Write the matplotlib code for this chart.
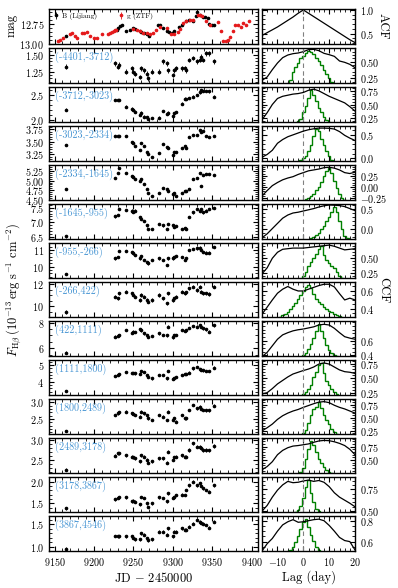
"""Velocity-resolved H-beta light curves and CCFs"""

import matplotlib

matplotlib.use("Agg")
import matplotlib.pyplot as plt
import numpy as np
from matplotlib.ticker import AutoMinorLocator, FixedLocator

# ---------------- data ----------------
# photometry (top panel)
b_jd = [9165, 9229, 9231, 9233, 9235, 9241, 9246, 9249, 9252, 9258, 9260, 9263,
        9267, 9270, 9281, 9284, 9287, 9292, 9295, 9299, 9302, 9308, 9312, 9317,
        9320, 9325, 9329, 9331, 9334, 9338, 9341, 9344, 9346, 9350, 9352]
b_mag = [12.895, 12.83, 12.80, 12.77, 12.755, 12.84, 12.82, 12.80, 12.81, 12.84,
         12.85, 12.86, 12.87, 12.90, 12.76, 12.755, 12.80, 12.84, 12.85, 12.86,
         12.84, 12.79, 12.76, 12.71, 12.70, 12.71, 12.65, 12.60, 12.63, 12.66,
         12.66, 12.67, 12.75, 12.765, 12.76]
g_jd = [9154, 9157.5, 9161, 9169, 9172, 9175.5, 9178.5, 9185, 9188, 9191, 9195,
        9199.5, 9204, 9210, 9218, 9220.5, 9222.5, 9225, 9227, 9228, 9250, 9254,
        9258, 9262.5, 9267, 9271, 9275, 9279, 9283.5, 9292, 9298, 9302, 9306,
        9309, 9313, 9317, 9322, 9326, 9332, 9334, 9337, 9342, 9346.5, 9357, 9361,
        9364, 9367, 9370, 9372.5, 9376, 9379, 9383, 9386.5, 9388.5, 9392.5, 9396]
g_mag = [12.958, 12.954, 12.925, 12.87, 12.862, 12.895, 12.925, 12.862, 12.862,
         12.85, 12.90, 12.925, 12.925, 12.879, 12.879, 12.862, 12.854, 12.84, 12.83,
         12.82, 12.808, 12.82, 12.84, 12.857, 12.866, 12.875, 12.857, 12.82, 12.79,
         12.80, 12.875, 12.87, 12.845, 12.808, 12.737, 12.708, 12.695, 12.70, 12.64,
         12.633, 12.654, 12.708, 12.758, 12.725, 12.84, 12.966, 12.958, 12.945,
         12.916, 12.84, 12.758, 12.758, 12.78, 12.737, 12.758, 12.716]

# spectroscopic epochs
jd = [9164, 9227, 9230, 9232, 9241, 9248, 9250, 9252, 9258, 9260, 9263, 9267,
      9269, 9273, 9283, 9288, 9292, 9294, 9300, 9302, 9304, 9311, 9315, 9317,
      9321, 9325, 9330, 9334, 9336, 9338, 9342, 9346, 9352]

vel_bins = ["(-4401,-3712)", "(-3712,-3023)", "(-3023,-2334)", "(-2334,-1645)",
            "(-1645,-955)", "(-955,-266)", "(-266,422)", "(422,1111)",
            "(1111,1800)", "(1800,2489)", "(2489,3178)", "(3178,3867)",
            "(3867,4546)"]

flux_1 = [1.325, 1.37, 1.32, 1.35, 1.25, 1.30, 1.25, 1.22, 1.17, 1.30, 1.27, 1.22,
          1.15, 1.25, 1.25, 1.40, 1.37, 1.27, 1.20, 1.27, 1.30, 1.30, 1.30, 1.27,
          1.42, 1.45, 1.40, 1.42, 1.47, 1.42, 1.52, 1.52, 1.40]
flux_2 = [2.21, 2.40, 2.40, 2.40, 2.27, 2.23, 2.20, 2.17, 2.10, 2.15, 2.07, 2.06,
          2.02, 2.04, 2.05, 2.18, 2.12, 2.15, 2.08, 2.14, 2.16, 2.33, 2.43, 2.42,
          2.44, 2.47, 2.50, 2.55, 2.60, 2.58, 2.58, 2.57, 2.47]
flux_3 = [3.435, 3.61, 3.61, 3.61, 3.61, 3.50, 3.47, 3.42, 3.34, 3.47, 3.42, 3.30,
          3.26, 3.20, 3.27, 3.45, 3.40, 3.37, 3.24, 3.30, 3.30, 3.37, 3.42, 3.37,
          3.60, 3.63, 3.63, 3.73, 3.70, 3.72, 3.62, 3.60, 3.61]
flux_4 = [4.79, 5.07, 5.20, 5.32, 5.19, 5.11, 5.10, 5.03, 4.98, 5.03, 4.90, 4.78,
          4.69, 4.61, 4.69, 4.82, 4.78, 4.74, 4.65, 4.69, 4.61, 4.69, 4.74, 4.74,
          4.78, 5.03, 5.07, 5.19, 4.86, 5.15, 5.18, 5.18, 5.15]
flux_5 = [6.51, 7.20, 7.25, 7.46, 7.43, 7.40, 7.35, 7.40, 7.17, 7.12, 7.05, 6.89,
          6.77, 6.77, 6.94, 6.89, 6.77, 6.94, 6.89, 6.83, 6.86, 6.77, 6.80, 6.77,
          7.17, 7.34, 7.46, 7.40, 7.46, 7.34, 7.40, 7.46, 7.50]
flux_6 = [9.56, 10.50, 10.60, 10.96, 10.96, 10.90, 10.80, 10.70, 10.50, 10.65,
          10.40, 10.30, 10.20, 10.40, 10.50, 10.40, 10.10, 10.50, 10.50, 10.60,
          10.65, 10.60, 10.40, 10.50, 11.00, 11.05, 11.10, 11.15, 11.00, 10.90,
          10.85, 10.85, 11.20]
flux_7 = [9.47, 10.86, 10.70, 11.17, 11.32, 11.17, 11.05, 10.86, 10.55, 11.00,
          10.86, 10.55, 10.40, 10.55, 11.00, 10.70, 10.25, 11.17, 10.55, 10.70,
          10.86, 11.32, 11.17, 11.25, 11.63, 11.78, 11.47, 11.78, 11.32, 11.17,
          11.15, 11.10, 11.78]
flux_8 = [5.66, 6.90, 6.98, 7.04, 7.43, 7.22, 7.30, 7.27, 7.48, 7.40, 7.17, 7.04,
          6.90, 6.95, 7.17, 7.04, 7.00, 7.69, 6.85, 7.00, 7.04, 7.43, 7.35, 7.43,
          7.60, 7.75, 7.70, 7.82, 7.70, 7.55, 7.48, 7.30, 7.80]
flux_9 = [3.45, 4.34, 4.40, 4.46, 4.60, 4.52, 4.52, 4.50, 4.48, 4.65, 4.58, 4.40,
          4.30, 4.20, 4.40, 4.40, 4.20, 4.65, 4.15, 4.20, 4.30, 4.40, 4.46, 4.46,
          4.55, 4.80, 4.90, 4.75, 4.72, 4.68, 4.66, 4.66, 4.85]
flux_10 = [2.14, 2.62, 2.67, 2.70, 2.72, 2.67, 2.66, 2.62, 2.57, 2.72, 2.67, 2.62,
           2.52, 2.47, 2.62, 2.57, 2.47, 2.72, 2.47, 2.52, 2.42, 2.62, 2.52, 2.52,
           2.77, 2.92, 2.82, 2.87, 2.80, 2.77, 2.76, 2.76, 2.90]
flux_11 = [2.25, 2.60, 2.67, 2.67, 2.62, 2.58, 2.56, 2.54, 2.46, 2.62, 2.58, 2.50,
           2.43, 2.46, 2.54, 2.54, 2.43, 2.71, 2.50, 2.56, 2.58, 2.62, 2.58, 2.58,
           2.75, 2.92, 2.83, 2.83, 2.80, 2.75, 2.75, 2.74, 2.85]
flux_12 = [1.385, 1.59, 1.62, 1.64, 1.64, 1.55, 1.56, 1.54, 1.48, 1.65, 1.62, 1.50,
           1.42, 1.50, 1.64, 1.62, 1.55, 1.73, 1.62, 1.65, 1.69, 1.70, 1.69, 1.81,
           1.92, 2.00, 1.92, 1.96, 1.90, 1.85, 1.81, 1.77, 1.92]
flux_13 = [0.95, 1.24, 1.23, 1.23, 1.23, 1.23, 1.19, 1.16, 1.16, 1.30, 1.27, 1.19,
           1.14, 1.16, 1.34, 1.34, 1.27, 1.41, 1.23, 1.34, 1.34, 1.41, 1.38, 1.38,
           1.45, 1.52, 1.60, 1.56, 1.54, 1.52, 1.49, 1.43, 1.56]
fluxes = [flux_1, flux_2, flux_3, flux_4, flux_5, flux_6, flux_7, flux_8, flux_9,
          flux_10, flux_11, flux_12, flux_13]
flux_err = [0.035, 0.025, 0.02, 0.025, 0.04, 0.07, 0.15, 0.1, 0.07, 0.04, 0.04,
            0.03, 0.03]

# ACF / CCF on a common lag grid
lags = [-16, -14, -12, -10, -8, -6, -4, -2, 0, 2, 4, 6, 8, 10, 12, 14, 16, 18, 20]
acf = [0.46, 0.52, 0.58, 0.64, 0.71, 0.78, 0.85, 0.93, 1.0, 0.93, 0.86, 0.79,
       0.72, 0.65, 0.58, 0.51, 0.44, 0.37, 0.31]
ccfs = [
    [0.22, 0.27, 0.38, 0.48, 0.56, 0.60, 0.62, 0.63, 0.65, 0.68, 0.685, 0.665,
     0.625, 0.605, 0.58, 0.51, 0.49, 0.46, 0.41],
    [0.22, 0.35, 0.50, 0.61, 0.65, 0.67, 0.69, 0.70, 0.72, 0.76, 0.78, 0.75,
     0.70, 0.65, 0.61, 0.57, 0.53, 0.46, 0.38],
    [0.02, 0.08, 0.17, 0.32, 0.40, 0.46, 0.50, 0.54, 0.58, 0.61, 0.63, 0.645,
     0.645, 0.64, 0.625, 0.57, 0.49, 0.43, 0.38],
    [-0.20, -0.08, 0.03, 0.10, 0.16, 0.20, 0.23, 0.28, 0.32, 0.36, 0.38, 0.40,
     0.43, 0.44, 0.42, 0.38, 0.32, 0.30, 0.33],
    [-0.22, -0.12, 0.01, 0.14, 0.27, 0.35, 0.40, 0.42, 0.45, 0.48, 0.51, 0.55,
     0.58, 0.60, 0.595, 0.585, 0.56, 0.51, 0.46],
    [0.24, 0.34, 0.50, 0.60, 0.65, 0.66, 0.67, 0.67, 0.67, 0.68, 0.69, 0.70,
     0.71, 0.72, 0.70, 0.67, 0.64, 0.65, 0.66],
    [0.34, 0.42, 0.50, 0.575, 0.62, 0.65, 0.62, 0.60, 0.60, 0.62, 0.64, 0.66,
     0.675, 0.675, 0.645, 0.57, 0.50, 0.52, 0.50],
    [0.38, 0.44, 0.53, 0.62, 0.68, 0.71, 0.735, 0.75, 0.76, 0.775, 0.79, 0.815,
     0.825, 0.815, 0.77, 0.71, 0.655, 0.635, 0.62],
    [0.23, 0.25, 0.32, 0.40, 0.46, 0.52, 0.57, 0.60, 0.63, 0.655, 0.69, 0.74,
     0.76, 0.74, 0.69, 0.64, 0.61, 0.60, 0.58],
    [0.25, 0.31, 0.38, 0.47, 0.54, 0.59, 0.63, 0.66, 0.70, 0.735, 0.77, 0.80,
     0.81, 0.79, 0.74, 0.70, 0.67, 0.63, 0.59],
    [0.32, 0.38, 0.47, 0.60, 0.68, 0.73, 0.76, 0.77, 0.785, 0.80, 0.83, 0.855,
     0.865, 0.86, 0.84, 0.81, 0.77, 0.70, 0.60],
    [0.50, 0.565, 0.66, 0.74, 0.80, 0.84, 0.825, 0.83, 0.845, 0.855, 0.84, 0.85,
     0.83, 0.78, 0.71, 0.66, 0.625, 0.59, 0.55],
    [0.51, 0.58, 0.63, 0.70, 0.76, 0.79, 0.81, 0.785, 0.79, 0.80, 0.81, 0.815,
     0.80, 0.755, 0.70, 0.64, 0.61, 0.60, 0.52],
]

# lag distributions: first bin centre (day) and relative counts in 1-day bins
cccd_start = [-6, -2, -1, 1, 3, 0, -9, 0, 0, 0, -1, -3, -6]
cccd = [
    [0.0, 0.1, 0.35, 0.5, 0.62, 0.78, 0.85, 0.95, 1.0, 0.97, 0.9, 0.8, 0.7, 0.55,
     0.42, 0.28, 0.15, 0.04],
    [0.02, 0.1, 0.3, 0.5, 0.75, 1.0, 0.85, 0.65, 0.45, 0.3, 0.15, 0.05, 0.01],
    [0.03, 0.08, 0.15, 0.3, 0.5, 0.8, 1.0, 0.95, 0.7, 0.5, 0.3, 0.15, 0.04],
    [0.02, 0.06, 0.12, 0.2, 0.3, 0.42, 0.58, 0.75, 0.92, 1.0, 0.85, 0.6, 0.38,
     0.18, 0.06, 0.01],
    [0.02, 0.06, 0.12, 0.2, 0.3, 0.42, 0.55, 0.7, 0.85, 1.0, 0.85, 0.55, 0.3,
     0.1, 0.02],
    [0.05, 0.2, 0.38, 0.5, 0.62, 0.75, 0.92, 1.0, 0.72, 0.55, 0.48, 0.38, 0.3,
     0.18, 0.06, 0.01],
    [0.01, 0.06, 0.1, 0.16, 0.24, 0.33, 0.45, 0.58, 0.7, 0.82, 0.95, 1.0, 0.9,
     0.72, 0.58, 0.48, 0.4, 0.32, 0.26, 0.2, 0.16, 0.1, 0.05, 0.02],
    [0.02, 0.08, 0.22, 0.38, 0.55, 0.78, 1.0, 0.8, 0.55, 0.35, 0.2, 0.1, 0.04,
     0.01],
    [0.02, 0.08, 0.18, 0.32, 0.55, 0.72, 0.95, 1.0, 0.7, 0.45, 0.3, 0.18, 0.08,
     0.02],
    [0.02, 0.12, 0.35, 0.6, 0.8, 0.85, 1.0, 0.82, 0.6, 0.45, 0.3, 0.17, 0.06,
     0.01],
    [0.03, 0.15, 0.45, 0.75, 1.0, 0.88, 0.65, 0.45, 0.3, 0.18, 0.1, 0.04, 0.01],
    [0.01, 0.05, 0.18, 0.45, 0.8, 1.0, 0.6, 0.3, 0.1, 0.02],
    [0.01, 0.04, 0.12, 0.28, 0.48, 0.7, 0.92, 1.0, 0.75, 0.5, 0.3, 0.12, 0.03],
]

# axis ranges and ticks
lc_ylim = [(1.08, 1.60), (1.96, 2.66), (3.12, 3.81), (4.50, 5.40), (6.42, 7.63),
           (9.32, 11.42), (9.0, 12.2), (5.4, 8.13), (3.2, 5.3), (2.05, 3.10),
           (2.17, 3.05), (1.30, 2.11), (0.90, 1.69)]
lc_ticks = [[1.25, 1.50], [2.0, 2.5], [3.25, 3.50, 3.75], [4.50, 4.75, 5.00, 5.25],
            [6.5, 7.0, 7.5], [10, 11], [10, 12], [6, 8], [4, 5], [2.5, 3.0],
            [2.5, 3.0], [1.5, 2.0], [1.0, 1.5]]
ccf_ylim = [(0.18, 0.705), (0.18, 0.82), (-0.06, 0.69), (-0.29, 0.49),
            (-0.25, 0.625), (0.17, 0.755), (0.31, 0.70), (0.39, 0.87),
            (0.21, 0.81), (0.19, 0.86), (0.26, 0.91), (0.49, 0.89), (0.51, 0.845)]
ccf_ticks = [[0.25, 0.50], [0.25, 0.50, 0.75], [0.0, 0.5], [-0.25, 0.00, 0.25],
             [0.0, 0.5], [0.25, 0.50], [0.4, 0.6], [0.4, 0.6], [0.25, 0.50, 0.75],
             [0.25, 0.50, 0.75], [0.50, 0.75], [0.50, 0.75], [0.6, 0.8]]

BLUE = "#4a97d4"

plt.rcParams.update({
    "font.family": "serif",
    "font.serif": ["cmr10"],
    "mathtext.fontset": "cm",
    "axes.formatter.use_mathtext": True,
    "axes.linewidth": 1.0,
    "xtick.direction": "in",
    "ytick.direction": "in",
    "xtick.top": True,
    "ytick.right": True,
    "xtick.major.size": 3.5,
    "ytick.major.size": 3.5,
    "xtick.minor.size": 2.0,
    "ytick.minor.size": 2.0,
    "xtick.labelsize": 7.3,
    "ytick.labelsize": 7.3,
})


def _style_left(ax, last):
    ax.set_xlim(9143, 9408)
    ax.xaxis.set_major_locator(FixedLocator([9150, 9200, 9250, 9300, 9350, 9400]))
    ax.xaxis.set_minor_locator(AutoMinorLocator(5))
    ax.yaxis.set_minor_locator(AutoMinorLocator())
    ax.tick_params(which="both", top=True, right=True, labelbottom=last)


def _style_right(ax, last):
    ax.set_xlim(-16, 20)
    ax.xaxis.set_major_locator(FixedLocator([-10, 0, 10, 20]))
    ax.xaxis.set_minor_locator(AutoMinorLocator(5))
    ax.yaxis.set_minor_locator(AutoMinorLocator())
    ax.tick_params(which="both", top=True, right=True, left=True,
                   labelleft=False, labelright=True, labelbottom=last)
    ax.axvline(0, color="gray", ls="--", lw=0.8, dashes=(4, 3))


def main():
    fig = plt.figure(figsize=(3.98, 5.88), dpi=100)
    gs = fig.add_gridspec(14, 2, width_ratios=[209, 93], left=0.1231, right=0.892,
                          top=0.9847, bottom=0.0629, hspace=0.114, wspace=0.026)

    # top row: photometry and ACF
    ax = fig.add_subplot(gs[0, 0])
    ax.errorbar(b_jd, b_mag, yerr=0.008, fmt="o", ms=1.6, color="black", lw=0.6,
                label="B (Lijiang)")
    ax.errorbar(g_jd, g_mag, yerr=0.012, fmt="o", ms=1.6, color="#e41a1c", lw=0.6,
                label="g (ZTF)")
    ax.set_ylim(13.0, 12.56)
    ax.yaxis.set_major_locator(FixedLocator([12.75, 13.00]))
    _style_left(ax, False)
    ax.legend(loc="upper left", ncol=2, frameon=False, fontsize=5.2,
              handlelength=0.8, handletextpad=0.5, columnspacing=2.8,
              borderaxespad=0.25, borderpad=0.3)
    ax = fig.add_subplot(gs[0, 1])
    ax.plot(lags, acf, color="black", lw=0.9)
    ax.set_ylim(0.28, 1.02)
    ax.yaxis.set_major_locator(FixedLocator([0.5, 1.0]))
    _style_right(ax, False)

    for i in range(13):
        last = i == 12
        ax = fig.add_subplot(gs[i + 1, 0])
        ax.errorbar(jd, fluxes[i], yerr=flux_err[i], fmt="o", ms=1.6,
                    color="black", lw=0.6)
        ax.set_ylim(*lc_ylim[i])
        ax.yaxis.set_major_locator(FixedLocator(lc_ticks[i]))
        _style_left(ax, last)
        ax.text(0.03, 0.73, vel_bins[i], transform=ax.transAxes, color=BLUE,
                fontsize=7.3, va="center", ha="left")
        if last:
            ax.set_xlabel(r"JD $-$ 2450000", fontsize=9, labelpad=2)

        ax = fig.add_subplot(gs[i + 1, 1])
        ax.plot(lags, ccfs[i], color="black", lw=0.9)
        h = np.asarray(cccd[i]) * 0.91
        edges = cccd_start[i] - 0.5 + np.arange(len(h) + 1)
        ax.stairs(h, edges, baseline=0, color="green", lw=1.0,
                  transform=ax.get_xaxis_transform())
        ax.set_ylim(*ccf_ylim[i])
        ax.yaxis.set_major_locator(FixedLocator(ccf_ticks[i]))
        _style_right(ax, last)
        if last:
            ax.set_xlabel("Lag (day)", fontsize=9, labelpad=2)

    fig.text(0.03, 0.957, "mag", rotation=90, fontsize=9, ha="center",
             va="center")
    fig.text(0.962, 0.956, "ACF", rotation=270, fontsize=9, ha="center",
             va="center")
    fig.text(0.962, 0.507, "CCF", rotation=270, fontsize=9, ha="center",
             va="center")
    fig.text(0.035, 0.507,
             r"$F_{\rm H\beta}\,(10^{-13}\,{\rm erg\ s^{-1}\ cm^{-2}})$",
             rotation=90, fontsize=9, ha="center", va="center")

    fig.savefig("out.png", dpi=100)
    plt.close(fig)


if __name__ == "__main__":
    main()
